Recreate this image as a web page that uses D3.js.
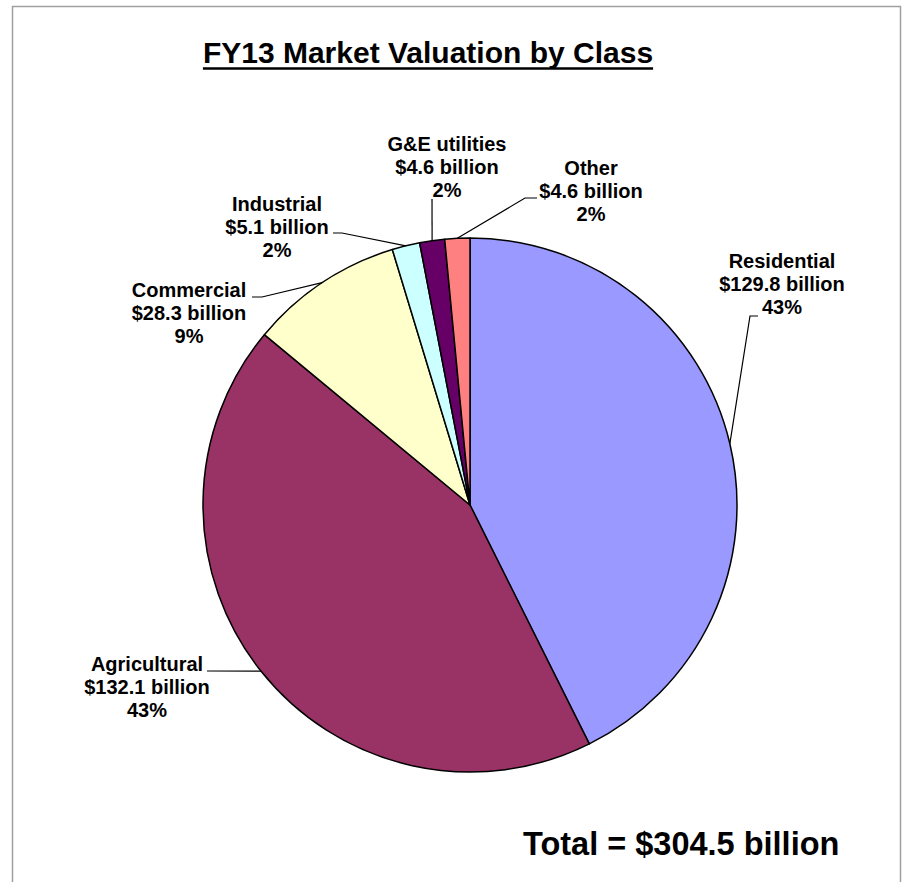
<!DOCTYPE html>
<html>
<head>
<meta charset="utf-8">
<script src="https://cdn.jsdelivr.net/npm/d3@7"></script>
<style>
  body { margin: 0; background: #fff; }
  svg text { font-family: "Liberation Sans", Arial, sans-serif; font-weight: bold; fill: #000; }
</style>
</head>
<body>
<svg id="chart"></svg>
<script>
// data
const categories = ["Residential", "Agricultural", "Commercial", "Industrial", "G&E utilities", "Other"];
const values = [129.8, 132.1, 28.3, 5.1, 4.6, 4.6];
const percents = ["43%", "43%", "9%", "2%", "2%", "2%"];
const colors = ["#9999FF", "#993366", "#FFFFCC", "#CCFFFF", "#660066", "#FF8080"];
const totalLabel = "Total = $304.5 billion";

// label placement (text centre, first baseline, leader points from text side)
const labelLayout = [
  { x: 782, y: 268, leader: [[758, 316], [750, 316]] },
  { x: 147, y: 671, leader: [[207, 671]] },
  { x: 189, y: 297, leader: [[252, 297], [262, 297]] },
  { x: 277, y: 211, leader: [[333, 233], [342, 233]] },
  { x: 447, y: 151, leader: [[432, 199]] },
  { x: 591, y: 175, leader: [[537, 198], [525, 198]] }
];

const width = 904, height = 882;
const cx = 470, cy = 505, radius = 267;

const svg = d3.select("#chart")
  .attr("width", width)
  .attr("height", height);

// frame
svg.append("rect")
  .attr("x", 12.5)
  .attr("y", 6.5)
  .attr("width", 888)
  .attr("height", 900)
  .attr("fill", "none")
  .attr("stroke", "#a0a0a0")
  .attr("stroke-width", 1.5);

// title + underline
const title = svg.append("text")
  .attr("x", 428)
  .attr("y", 63)
  .attr("text-anchor", "middle")
  .style("font-size", "30px")
  .text("FY13 Market Valuation by Class");

const tw = title.node().getComputedTextLength();
svg.append("line")
  .attr("x1", 428 - tw / 2)
  .attr("x2", 428 + tw / 2)
  .attr("y1", 68.5)
  .attr("y2", 68.5)
  .attr("stroke", "#000")
  .attr("stroke-width", 2.5);

// pie
const data = categories.map((c, i) => ({ name: c, value: values[i], pct: percents[i], color: colors[i], layout: labelLayout[i] }));

const pie = d3.pie().value(d => d.value).sort(null);
const arcs = pie(data);
const arc = d3.arc().innerRadius(0).outerRadius(radius);

const g = svg.append("g").attr("transform", `translate(${cx},${cy})`);

g.selectAll("path.slice")
  .data(arcs)
  .join("path")
  .attr("class", "slice")
  .attr("d", arc)
  .attr("fill", d => d.data.color)
  .attr("stroke", "#000")
  .attr("stroke-width", 1.5)
  .attr("stroke-linejoin", "round");

// leader lines
arcs.forEach(a => {
  const mid = (a.startAngle + a.endAngle) / 2;
  const px = cx + radius * Math.sin(mid);
  const py = cy - radius * Math.cos(mid);
  const pts = [[px, py]].concat(a.data.layout.leader.slice().reverse());
  svg.append("path")
    .attr("d", d3.line()(pts))
    .attr("fill", "none")
    .attr("stroke", "#000")
    .attr("stroke-width", 1.2);
});

// labels
arcs.forEach(a => {
  const L = a.data.layout;
  const lines = [a.data.name, `$${a.data.value.toFixed(1)} billion`, a.data.pct];
  const t = svg.append("text")
    .attr("text-anchor", "middle")
    .style("font-size", "20px");
  lines.forEach((s, i) => {
    t.append("tspan")
      .attr("x", L.x)
      .attr("y", L.y + i * 23)
      .text(s);
  });
});

// total
svg.append("text")
  .attr("x", 523)
  .attr("y", 855)
  .style("font-size", "32.5px")
  .text(totalLabel);
</script>
</body>
</html>
